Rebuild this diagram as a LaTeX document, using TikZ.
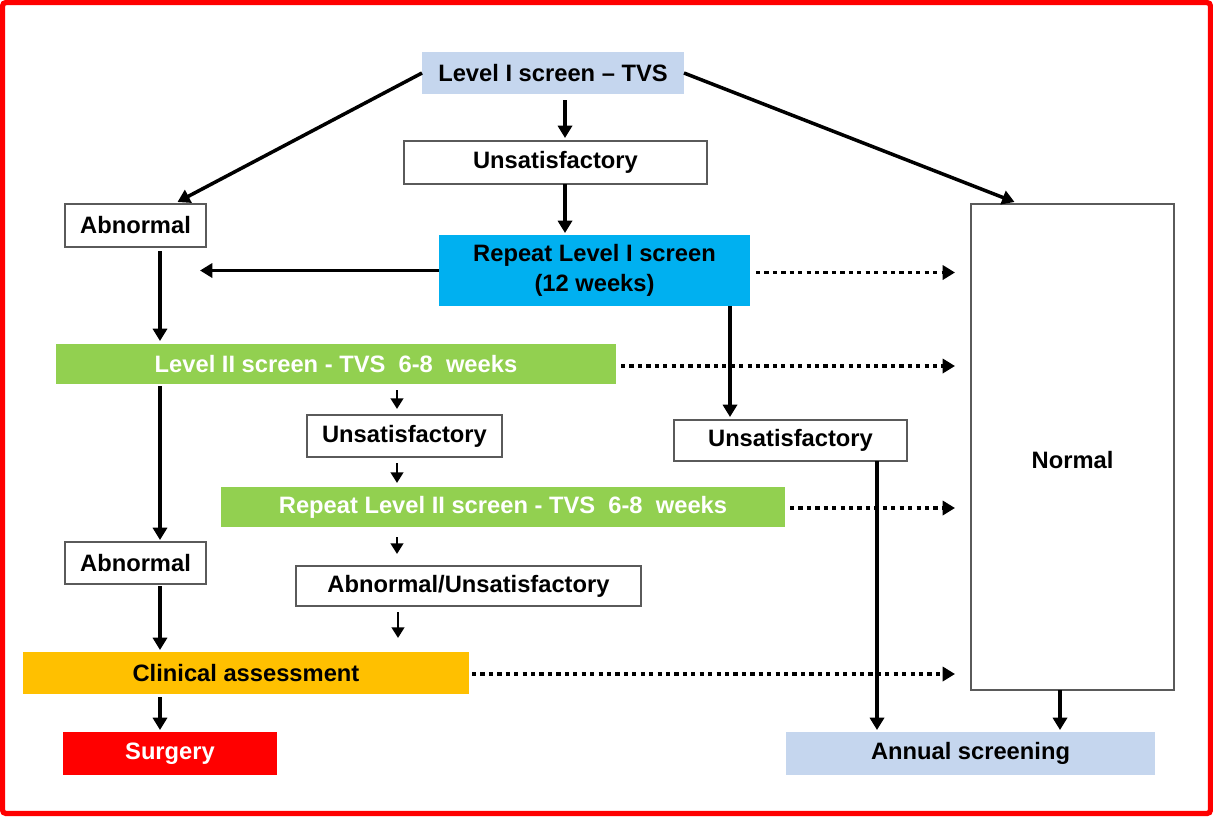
\documentclass[tikz,border=0pt]{standalone}
\usepackage{fontspec}
\setmainfont{Liberation Sans}
\usetikzlibrary{arrows.meta,calc}
\definecolor{paleblue}{HTML}{C5D6EE}
\definecolor{skyblue}{HTML}{00B0F0}
\definecolor{leafgreen}{HTML}{92D050}
\definecolor{amber}{HTML}{FFC000}
\definecolor{alarm}{HTML}{FF0000}
\definecolor{edgegray}{HTML}{5A5A5A}
\begin{document}
\begin{tikzpicture}[x=0.02cm,y=-0.02cm,
  sz/.style 2 args={minimum width=#1*0.02cm, minimum height=#2*0.02cm},
  lbl/.style={inner sep=0pt, outer sep=0pt, align=center, font=\bfseries\fontsize{13.5}{17}\selectfont},
  box/.style={lbl, draw=edgegray, line width=0.6pt, fill=white, text=black},
  pale/.style={lbl, fill=paleblue, text=black},
  sky/.style={lbl, fill=skyblue, text=black},
  leaf/.style={lbl, fill=leafgreen, text=white},
  amb/.style={lbl, fill=amber, text=black},
  hot/.style={lbl, fill=alarm, text=white},
  arr/.style={-{Triangle[width=8pt,length=7pt]}, line width=2pt},
  arrsm/.style={-{Triangle[width=7pt,length=6pt]}, line width=1.7pt},
  dotarr/.style={-{Triangle[width=8pt,length=7pt]}, line width=2.2pt, dash pattern=on 2.4pt off 2.4pt}]
\useasboundingbox (0,0) rectangle (1213,816);
% outer frame
\draw[alarm, line width=3pt, rounded corners=2pt] (2.5,2.5) rectangle (1210.5,813.5);

% boxes
\node[pale, sz={262}{42}] (l1) at (553,73) {Level I screen -- TVS};
\node[box, sz={303}{43}] (u1) at (555.5,162.5) {Unsatisfactory};
\node[box, sz={141}{43}] (abn1) at (135.5,225.5) {Abnormal};
\node[box, sz={203}{486}, text height=24.5pt, text depth=0pt] (normal) at (1072.5,447) {Normal};
\node[sky, sz={311}{71}] (r1) at (594.5,270.5) {Repeat Level I screen\\(12 weeks)};
\node[leaf, sz={560}{40}] (l2) at (336,364) {Level II screen - TVS\ \ 6-8\ \ weeks};
\node[box, sz={195}{42}] (u2) at (404.5,436) {Unsatisfactory};
\node[box, sz={233}{41}] (u3) at (790.5,440.5) {Unsatisfactory};
\node[leaf, sz={564}{40}] (rl2) at (503,507) {Repeat Level II screen - TVS\ \ 6-8\ \ weeks};
\node[box, sz={141}{42}] (abn2) at (135.5,563) {Abnormal};
\node[box, sz={345}{40}] (au) at (468.5,586) {Abnormal/Unsatisfactory};
\node[amb, sz={446}{42}] (ca) at (246,673) {Clinical assessment};
\node[hot, sz={214}{43}] (surg) at (170,753.5) {Surgery};
\node[pale, sz={369}{43}] (ann) at (970.5,753.5) {Annual screening};

% connector columns and free ends
\coordinate (xA) at (160,0);
\coordinate (xB) at (397,0);
\coordinate (xC) at (565,0);
\coordinate (xD) at (730,0);
\coordinate (xE) at (877,0);
\coordinate (xF) at (1060,0);
\coordinate (lend) at (200,270.5);
\coordinate (aend) at (398,638);

% connectors
\draw[arr] (l1.west) -- ($(abn1.north)+(42,-2)$);
\draw[arr] (l1.east) -- ($(normal.north)+(-58,-2)$);
\draw[arr] ($(l1.south -| xC)+(0,6)$) -- ($(u1.north -| xC)+(0,-3)$);
\draw[arr] (u1.south -| xC) -- ($(r1.north -| xC)+(0,-2)$);
\draw[arr] (r1.west) -- (lend);
\draw[dotarr] ($(r1.east)+(6,2)$) -- ($(r1.east -| normal.west)+(-16,2)$);
\draw[arr] ($(abn1.south -| xA)+(0,4)$) -- ($(l2.north -| xA)+(0,-3)$);
\draw[dotarr] ($(l2.east)+(5,2)$) -- ($(l2.east -| normal.west)+(-16,2)$);
\draw[arr] (r1.south -| xD) -- ($(u3.north -| xD)+(0,-3)$);
\draw[arr] ($(l2.south -| xA)+(0,2)$) -- ($(abn2.north -| xA)+(0,-2)$);
\draw[arrsm] ($(l2.south -| xB)+(0,6)$) -- ($(u2.north -| xB)+(0,-6)$);
\draw[arrsm] ($(u2.south -| xB)+(0,6)$) -- ($(rl2.north -| xB)+(0,-4)$);
\draw[dotarr] ($(rl2.east)+(5,1)$) -- ($(rl2.east -| normal.west)+(-16,1)$);
\draw[arrsm] ($(rl2.south -| xB)+(0,10)$) -- ($(au.north -| xB)+(0,-12)$);
\draw[arrsm] ($(au.south)+(-70.5,6)$) -- (aend);
\draw[arr] ($(abn2.south -| xA)+(0,2)$) -- ($(ca.north -| xA)+(0,-2)$);
\draw[arr] ($(ca.south -| xA)+(0,3)$) -- ($(surg.north -| xA)+(0,-2)$);
\draw[dotarr] ($(ca.east)+(3,1)$) -- ($(ca.east -| normal.west)+(-16,1)$);
\draw[arr] (u3.south -| xE) -- ($(ann.north -| xE)+(0,-2)$);
\draw[arr] (normal.south -| xF) -- ($(ann.north -| xF)+(0,-2)$);
\end{tikzpicture}
\end{document}
